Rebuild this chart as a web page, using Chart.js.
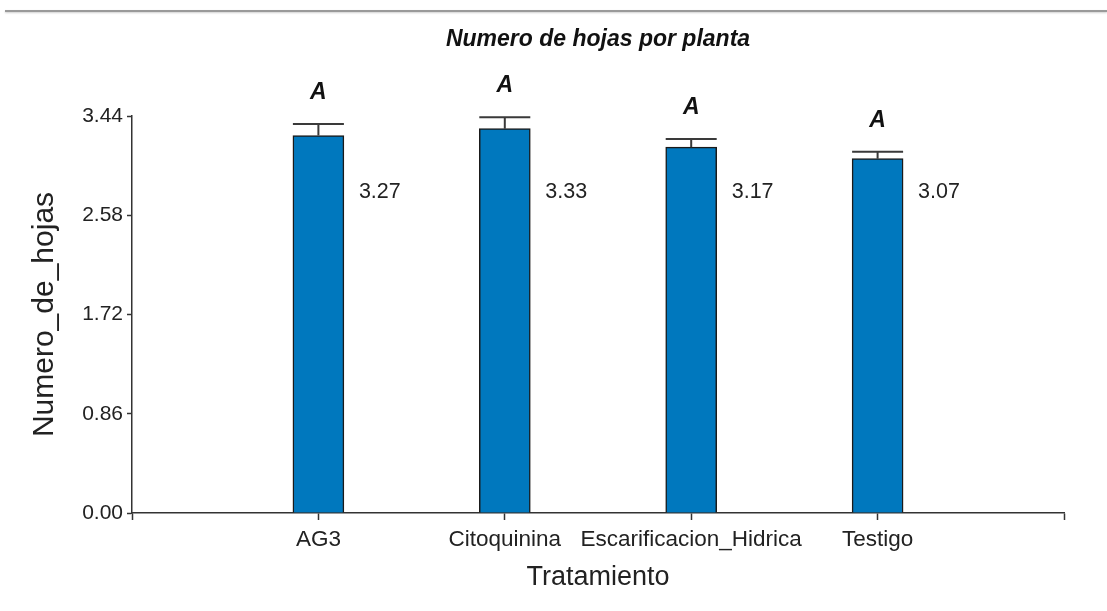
<!DOCTYPE html>
<html>
<head>
<meta charset="utf-8">
<script src="https://cdn.jsdelivr.net/npm/chart.js@4.4.0/dist/chart.umd.min.js"></script>
<style>
html, body { margin: 0; padding: 0; background: #fff; }
#wrap { position: relative; width: 1107px; height: 611px; }
#rule { position: absolute; left: 5px; right: 0; top: 10px; height: 2px; background: #9a9a9a; box-shadow: 0 1px 2px #cfcfcf; }
</style>
</head>
<body>
<div id="wrap">
<canvas id="hojasChart" width="1107" height="611"></canvas>
<div id="rule"></div>
</div>
<script>
const tratamientos = ["AG3", "Citoquinina", "Escarificacion_Hidrica", "Testigo"];
const medias = [3.27, 3.33, 3.17, 3.07];
const errores = [0.10, 0.10, 0.07, 0.06];
const letras = ["A", "A", "A", "A"];
const yTicks = [0.00, 0.86, 1.72, 2.58, 3.44];

const FONT = '"Liberation Sans", Arial, sans-serif';

// plugin: error bars, letters, value labels and title
const marcasPlugin = {
    id: "marcas",
    afterDatasetsDraw(chart) {
        const ctx = chart.ctx;
        const y = chart.scales.y;
        const meta = chart.getDatasetMeta(0);
        ctx.save();
        tratamientos.forEach((t, i) => {
            const bar = meta.data[i + 1];
            const half = bar.width / 2;
            const yTop = y.getPixelForValue(medias[i] + errores[i]);

            ctx.strokeStyle = "#3a3a3a";
            ctx.lineWidth = 2;
            ctx.beginPath();
            ctx.moveTo(bar.x, bar.y);
            ctx.lineTo(bar.x, yTop);
            ctx.moveTo(bar.x - half, yTop);
            ctx.lineTo(bar.x + half, yTop);
            ctx.stroke();

            ctx.fillStyle = "#111";
            ctx.textBaseline = "middle";
            ctx.textAlign = "center";
            ctx.font = "italic bold 23px " + FONT;
            ctx.fillText(letras[i], bar.x, yTop - 31);

            ctx.textAlign = "left";
            ctx.fillStyle = "#222";
            ctx.font = "21.5px " + FONT;
            ctx.fillText(medias[i].toFixed(2), bar.x + half + 15, y.getPixelForValue(2.78));
        });

        const area = chart.chartArea;
        ctx.textAlign = "center";
        ctx.fillStyle = "#111";
        ctx.font = "italic bold 23px " + FONT;
        ctx.fillText("Numero de hojas por planta", (area.left + area.right) / 2, 40);
        ctx.restore();
    }
};

new Chart(
    document.getElementById("hojasChart"),
    {
        type: "bar",
        data: {
            labels: ["", ...tratamientos, ""],
            datasets: [{
                data: [null, ...medias, null],
                backgroundColor: "#0078BE",
                borderColor: "#1a1a1a",
                borderWidth: 1.5,
                barThickness: 51
            }]
        },
        options: {
            responsive: false,
            animation: false,
            layout: {
                padding: { top: 116, right: 43, bottom: 0, left: 0 }
            },
            plugins: {
                legend: { display: false },
                tooltip: { enabled: false }
            },
            scales: {
                x: {
                    offset: false,
                    grid: {
                        offset: false,
                        drawOnChartArea: false,
                        drawTicks: true,
                        tickLength: 7,
                        tickWidth: 1.5,
                        color: "#333"
                    },
                    border: { color: "#333", width: 1.5 },
                    ticks: {
                        autoSkip: false,
                        maxRotation: 0,
                        padding: 6,
                        color: "#222",
                        font: { family: FONT, size: 22.5 }
                    },
                    title: {
                        display: true,
                        text: "Tratamiento",
                        color: "#222",
                        font: { family: FONT, size: 27 },
                        padding: { top: 0, bottom: 17 }
                    },
                    afterFit: s => { s.height = 98; }
                },
                y: {
                    min: 0,
                    max: 3.44,
                    afterBuildTicks: s => { s.ticks = yTicks.map(v => ({ value: v })); },
                    grid: {
                        drawOnChartArea: false,
                        drawTicks: true,
                        tickLength: 5,
                        tickWidth: 1.5,
                        color: "#333"
                    },
                    border: { color: "#333", width: 1.5 },
                    ticks: {
                        padding: 4,
                        color: "#222",
                        font: { family: FONT, size: 21 },
                        callback: v => Number(v).toFixed(2)
                    },
                    title: {
                        display: true,
                        text: "Numero_de_hojas",
                        color: "#222",
                        font: { family: FONT, size: 30 },
                        padding: { top: 27, bottom: 0 }
                    },
                    afterFit: s => { s.width = 132; }
                }
            }
        },
        plugins: [marcasPlugin]
    }
);
</script>
</body>
</html>
